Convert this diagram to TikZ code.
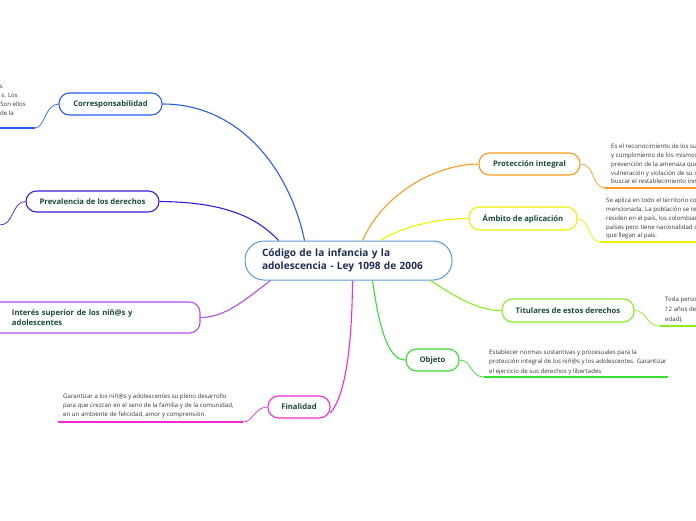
\documentclass[tikz,border=0pt]{standalone}
\usepackage{fontspec}
\setmainfont{Open Sans}
\begin{document}
\begin{tikzpicture}[x=1pt,y=-1pt,
  branch/.style={draw, line width=1.1pt, rounded corners=10.5pt, fill=white, inner sep=0pt,
    font=\fontsize{7.7}{9.6}\selectfont\bfseries, text=titlegreen, align=center},
  desc/.style={inner sep=0pt, anchor=north west, align=left, text=desctext,
    font=\fontsize{6.1}{8.9}\selectfont},
  frag/.style={inner sep=0pt, anchor=base east, text=desctext, font=\fontsize{6.1}{8.9}\selectfont},
  conn/.style={line width=1.1pt},
  uline/.style={line width=1.4pt}]
\definecolor{titlegreen}{HTML}{1B4B3C}
\definecolor{centraltext}{HTML}{1F2D55}
\definecolor{desctext}{HTML}{333333}
\definecolor{cblue}{HTML}{5B9BD5}
\definecolor{ccorr}{HTML}{2B5CF0}
\definecolor{cprev}{HTML}{3A1AE0}
\definecolor{cint}{HTML}{B64BEF}
\definecolor{cfin}{HTML}{F42AD8}
\definecolor{cobj}{HTML}{33E033}
\definecolor{ctit}{HTML}{88EE22}
\definecolor{camb}{HTML}{F0F000}
\definecolor{cpro}{HTML}{FF9A1F}
\useasboundingbox (0,0) rectangle (696,520);
\clip (0,0) rectangle (696,520);

% central
\node[draw=cblue, line width=1pt, rounded corners=19pt, fill=white, minimum width=207pt, minimum height=39pt,
  text width=173pt, align=left, inner sep=0pt, text=centraltext,
  font=\fontsize{10.1}{12.8}\selectfont\bfseries] (c) at (348.5,260.5)
  {Código de la infancia y la\\adolescencia - Ley 1098 de 2006};

% branches
\node[branch, draw=ccorr, minimum width=103pt, minimum height=22pt] (corr) at (110.5,104) {Corresponsabilidad};
\node[branch, draw=cprev, minimum width=133pt, minimum height=21pt] (prev) at (92.5,201.5) {Prevalencia de los derechos};
\node[branch, draw=cint, minimum width=210pt, minimum height=31pt, text width=166pt, align=left] (int) at (95,317.5)
  {Interés superior de los niñ@s y\\adolescentes};
\node[branch, draw=cfin, minimum width=62pt, minimum height=22pt] (fin) at (299,407) {Finalidad};
\node[branch, draw=cpro, minimum width=101pt, minimum height=22pt] (pro) at (529.5,164) {Protección integral};
\node[branch, draw=camb, minimum width=108pt, minimum height=23pt] (amb) at (523,218.5) {Ámbito de aplicación};
\node[branch, draw=ctit, minimum width=132pt, minimum height=23pt] (tit) at (568,310.5) {Titulares de estos derechos};
\node[branch, draw=cobj, minimum width=53pt, minimum height=22pt] (obj) at (432.5,360) {Objeto};

% connectors from central node
\draw[conn, ccorr] ([xshift=-44pt]c.north) .. controls (290,170) and (240,104) .. (corr.east);
\draw[conn, cprev] ([xshift=-70pt]c.north) .. controls (255,215) and (220,202) .. (prev.east);
\draw[conn, cint] ([xshift=-78pt]c.south) .. controls (245,300) and (225,317.5) .. (int.east);
\draw[conn, cfin] ([xshift=4pt]c.south) .. controls (352,350) and (345,395) .. ([yshift=-6pt]fin.east);
\draw[conn, cobj] ([xshift=24pt]c.south) .. controls (380,335) and (390,360) .. (obj.west);
\draw[conn, ctit] ([xshift=82pt]c.south) .. controls (460,300) and (480,310.5) .. (tit.west);
\draw[conn, camb] ([xshift=32pt]c.north) .. controls (405,225) and (440,218.5) .. (amb.west);
\draw[conn, cpro] ([xshift=14pt]c.north) .. controls (385,190) and (440,164) .. (pro.west);

% underlines / leader curves
\coordinate (ucorr) at (35,128);
\coordinate (ucorrE) at (0,128);
\draw[conn, ccorr, line width=0.7pt] (corr.west) .. controls (45,104) and (45,128) .. (ucorr);
\draw[uline, ccorr] (ucorr) -- (ucorrE);

\coordinate (uprev) at (0,225);
\draw[conn, cprev, line width=0.7pt] (prev.west) .. controls (12,201.5) and (14,225) .. (uprev);

\coordinate (ufin) at (243,422);
\coordinate (ufinE) at (58,422);
\draw[conn, cfin, line width=0.7pt] (fin.west) .. controls (255,407) and (253,422) .. (ufin);
\draw[uline, cfin] (ufin) -- (ufinE);

\coordinate (upro) at (605,188);
\coordinate (uproE) at (696,188);
\draw[conn, cpro, line width=0.7pt] (pro.east) .. controls (595,164) and (592,188) .. (upro);
\draw[uline, cpro] (upro) -- (uproE);

\coordinate (uamb) at (600,242);
\coordinate (uambE) at (696,242);
\draw[conn, camb, line width=0.7pt] (amb.east) .. controls (590,218.5) and (588,242) .. (uamb);
\draw[uline, camb] (uamb) -- (uambE);

\coordinate (utit) at (660,326);
\coordinate (utitE) at (696,326);
\draw[conn, ctit, line width=0.7pt] (tit.east) .. controls (648,310.5) and (645,326) .. (utit);
\draw[uline, ctit] (utit) -- (utitE);

\coordinate (uobj) at (484,377);
\coordinate (uobjE) at (668,377);
\draw[conn, cobj, line width=0.7pt] (obj.east) .. controls (472,360) and (470,377) .. (uobj);
\draw[uline, cobj] (uobj) -- (uobjE);

% descriptions
\node[frag] (f1) at (3,88) {s};
\node[frag] (f2) at (18,97) {s. Los};
\node[frag] (f3) at (26,106) {Son ellos};
\node[frag] (f4) at (14,115) {de la};

\node[desc] (dfin) at (63,393.5) {Garantizar a los niñ@s y adolescentes su pleno desarrollo\\
para que crezcan en el seno de la familia y de la comunidad,\\
en un ambiente de felicidad, amor y comprensión.};

\node[desc] (dpro) at (611,143.5) {Es el reconocimiento de los suj\\
y cumplimiento de los mismos,\\
prevención de la amenaza que\\
vulneración y violación de su se\\
buscar el restablecimiento inm};

\node[desc] (damb) at (606,197.5) {Se aplica en todo el territorio col\\
mencionada. La población se ret\\
residen en el país, los colombian\\
países pero tiene nacionalidad c\\
que llegan al país.};

\node[desc, font=\fontsize{6.1}{9.8}\selectfont] (dtit) at (665,297) {Toda perso\\12 años de\\edad).};

\node[desc, font=\fontsize{6.1}{9.5}\selectfont] (dobj) at (489,349.5) {Establecer normas sustantivas y procesuales para la\\
protección integral de los niñ@s y los adolescentes. Garantizar\\
el ejercicio de sus derechos y libertades};
\end{tikzpicture}
\end{document}
